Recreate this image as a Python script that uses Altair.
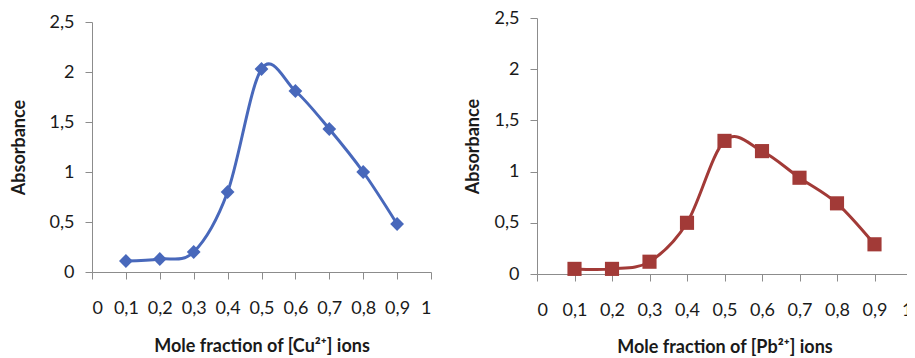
import altair as alt
import pandas as pd

# Job's method (continuous variation) data
mole_fraction = [0.1, 0.2, 0.3, 0.4, 0.5, 0.6, 0.7, 0.8, 0.9]
cu_absorbance = [0.11, 0.13, 0.20, 0.80, 2.03, 1.81, 1.43, 1.00, 0.48]
pb_absorbance = [0.05, 0.05, 0.12, 0.50, 1.30, 1.20, 0.94, 0.69, 0.29]

x_ticks = [0, 0.1, 0.2, 0.3, 0.4, 0.5, 0.6, 0.7, 0.8, 0.9, 1]
y_ticks = [0, 0.5, 1, 1.5, 2, 2.5]

FONT = "Lato"
AXIS_GRAY = "#8c8c8c"
# decimal comma labels
COMMA = "replace(format(datum.value, '.1~f'), '.', ',')"


def panel(values, color, shape, size, ion, width, height, y_top,
          y_title_pad, x_title_pad):
    df = pd.DataFrame({"x": mole_fraction, "y": values})
    base = alt.Chart(df)
    x = alt.X(
        "x:Q",
        scale=alt.Scale(domain=[0, 1], nice=False, zero=False),
        axis=alt.Axis(
            values=x_ticks, labelExpr=COMMA, grid=False,
            title=f"Mole fraction of [{ion}] ions",
            tickSize=7, labelPadding=20, titlePadding=x_title_pad,
        ),
    )
    # y range starts y_top px below the panel top
    y = alt.Y(
        "y:Q",
        scale=alt.Scale(domain=[0, 2.5], nice=False, range=[height, y_top]),
        axis=alt.Axis(
            values=y_ticks, labelExpr=COMMA, grid=False,
            title="Absorbance",
            tickSize=7, labelPadding=11, titlePadding=y_title_pad,
        ),
    )
    line = base.mark_line(
        color=color, strokeWidth=3, interpolate="cardinal", tension=0
    ).encode(x=x, y=y)
    pts = base.mark_point(
        shape=shape, filled=True, size=size, color=color, opacity=1
    ).encode(x=x, y=y)
    return alt.layer(line, pts).properties(width=width, height=height)


left = panel(cu_absorbance, "#4868bb", "diamond", 190, "Cu²⁺", 339, 254, 4,
             21, 20)
right = panel(pb_absorbance, "#a23a37", "square", 200, "Pb²⁺", 375, 256, 0,
              12, 19)

chart = (
    alt.concat(left, right, columns=2, spacing=32)
    .properties(
        padding={"left": 10, "top": 9, "right": -6, "bottom": 0},
        background="white",
    )
    .configure_view(stroke=None)
    .configure_axis(
        domainColor=AXIS_GRAY, tickColor=AXIS_GRAY,
        labelFont=FONT, labelFontSize=18, labelColor="#1a1a1a",
        titleFont=FONT, titleFontSize=18, titleFontWeight="bold",
        titleColor="#1a1a1a",
    )
)

chart.save("out.html", embed_options={"renderer": "svg", "actions": False})
